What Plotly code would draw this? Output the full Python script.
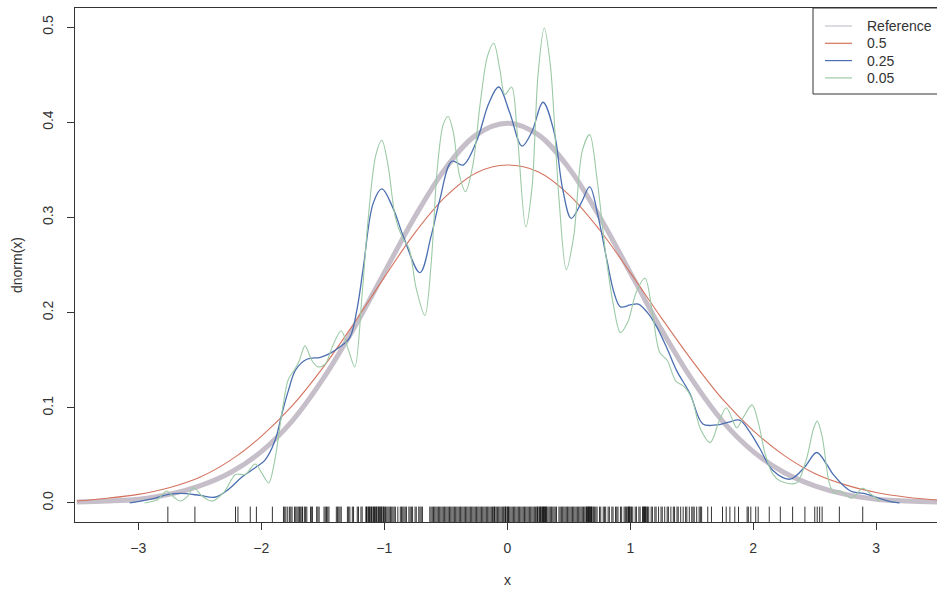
import plotly.graph_objects as go

# Standard normal reference curve dnorm(x)
ref_x = [-3.5, -3.25, -3.0, -2.75, -2.5, -2.25, -2.0, -1.75, -1.5, -1.25, -1.0, -0.75, -0.5, -0.25,
         0.0, 0.25, 0.5, 0.75, 1.0, 1.25, 1.5, 1.75, 2.0, 2.25, 2.5, 2.75, 3.0, 3.25, 3.5]
ref_y = [0.001, 0.002, 0.004, 0.009, 0.018, 0.032, 0.054, 0.086, 0.130, 0.183, 0.242, 0.301, 0.352, 0.387,
         0.399, 0.387, 0.352, 0.301, 0.242, 0.183, 0.130, 0.086, 0.054, 0.032, 0.018, 0.009, 0.004, 0.002, 0.001]

# Kernel density estimate, bandwidth 0.5
bw050_x = [-3.5, -3.25, -3.0, -2.75, -2.5, -2.25, -2.0, -1.75, -1.5, -1.25, -1.0, -0.75, -0.5, -0.25,
           0.0, 0.25, 0.5, 0.75, 1.0, 1.25, 1.5, 1.75, 2.0, 2.25, 2.5, 2.75, 3.0, 3.25, 3.5]
bw050_y = [0.002, 0.005, 0.009, 0.016, 0.027, 0.045, 0.070, 0.102, 0.142, 0.188, 0.237, 0.284, 0.322, 0.347,
           0.355, 0.348, 0.324, 0.287, 0.242, 0.195, 0.150, 0.109, 0.076, 0.050, 0.031, 0.019, 0.011, 0.006, 0.003]

# Kernel density estimate, bandwidth 0.25
bw025_x = [-3.07, -2.9, -2.75, -2.65, -2.5, -2.38, -2.27, -2.16, -2.05, -1.97, -1.89, -1.83, -1.78, -1.72,
           -1.63, -1.52, -1.43, -1.36, -1.28, -1.22, -1.17, -1.09, -1.02, -0.93, -0.845, -0.71, -0.62, -0.55,
           -0.45, -0.36, -0.25, -0.15, -0.07, 0.02, 0.12, 0.2, 0.29, 0.38, 0.45, 0.52, 0.6, 0.67, 0.74, 0.81,
           0.87, 0.92, 1.0, 1.065, 1.14, 1.215, 1.3, 1.377, 1.485, 1.59, 1.7, 1.8, 1.89, 1.97, 2.05, 2.16, 2.3,
           2.42, 2.515, 2.6, 2.65, 2.79, 2.9, 3.0, 3.1, 3.19]
bw025_y = [0.0, 0.004, 0.009, 0.010, 0.008, 0.006, 0.014, 0.027, 0.037, 0.045, 0.065, 0.095, 0.118, 0.140,
           0.151, 0.153, 0.158, 0.164, 0.174, 0.205, 0.248, 0.315, 0.330, 0.310, 0.280, 0.242, 0.280, 0.318,
           0.359, 0.355, 0.380, 0.420, 0.437, 0.410, 0.375, 0.390, 0.421, 0.390, 0.330, 0.299, 0.315, 0.332,
           0.300, 0.255, 0.220, 0.206, 0.208, 0.209, 0.200, 0.185, 0.162, 0.139, 0.115, 0.083, 0.082, 0.085,
           0.087, 0.075, 0.058, 0.034, 0.025, 0.038, 0.053, 0.040, 0.030, 0.0126, 0.010, 0.006, 0.002, 0.0]

# Kernel density estimate, bandwidth 0.05
bw005_x = [-2.95, -2.85, -2.77, -2.71, -2.66, -2.6, -2.55, -2.48, -2.4, -2.3, -2.21, -2.13, -2.05, -1.99,
           -1.94, -1.89, -1.83, -1.78, -1.73, -1.69, -1.645, -1.59, -1.54, -1.48, -1.42, -1.35, -1.29, -1.24,
           -1.18, -1.13, -1.07, -1.02, -0.97, -0.91, -0.85, -0.8, -0.74, -0.67, -0.62, -0.57, -0.52, -0.48,
           -0.44, -0.39, -0.34, -0.28, -0.22, -0.16, -0.11, -0.06, -0.02, 0.035, 0.08, 0.15, 0.2, 0.25, 0.3,
           0.35, 0.42, 0.48, 0.54, 0.61, 0.67, 0.73, 0.8, 0.86, 0.92, 0.98, 1.05, 1.12, 1.18, 1.24, 1.3, 1.37,
           1.44, 1.5, 1.57, 1.65, 1.72, 1.78, 1.83, 1.865, 1.92, 1.99, 2.04, 2.1, 2.16, 2.22, 2.35, 2.43, 2.49,
           2.52, 2.56, 2.62, 2.66, 2.7, 2.8, 2.89, 2.95, 3.03]
bw005_y = [0.0, 0.003, 0.0126, 0.006, 0.002, 0.007, 0.016, 0.007, 0.002, 0.012, 0.030, 0.030, 0.041, 0.030,
           0.021, 0.045, 0.097, 0.130, 0.140, 0.150, 0.165, 0.150, 0.143, 0.146, 0.165, 0.181, 0.160, 0.143,
           0.220, 0.300, 0.365, 0.381, 0.355, 0.300, 0.278, 0.268, 0.225, 0.197, 0.250, 0.350, 0.398, 0.406,
           0.390, 0.345, 0.327, 0.355, 0.420, 0.470, 0.483, 0.455, 0.429, 0.437, 0.390, 0.290, 0.330, 0.450,
           0.499, 0.460, 0.320, 0.245, 0.280, 0.370, 0.387, 0.340, 0.262, 0.210, 0.179, 0.190, 0.222, 0.236,
           0.200, 0.158, 0.150, 0.128, 0.122, 0.110, 0.078, 0.0635, 0.085, 0.100, 0.088, 0.079, 0.090, 0.103,
           0.085, 0.050, 0.030, 0.023, 0.021, 0.045, 0.078, 0.086, 0.070, 0.020, 0.010, 0.013, 0.005, 0.0155,
           0.010, 0.002]

# Sample observations shown as a rug along the x axis
rug_x = [-2.76, -2.54, -2.21, -2.19, -2.09, -2.04, -1.91,
         -1.82, -1.81, -1.80, -1.785, -1.77, -1.76, -1.75, -1.73, -1.72, -1.71, -1.70, -1.69, -1.68,
         -1.67, -1.665, -1.65, -1.64, -1.63, -1.60, -1.59, -1.585, -1.55, -1.54, -1.53, -1.49, -1.48,
         -1.47, -1.46, -1.45, -1.39, -1.38, -1.37, -1.36, -1.35, -1.30, -1.29, -1.28, -1.26, -1.25, -1.22,
         -1.21, -1.19, -1.18, -1.15, -1.145, -1.14, -1.13, -1.125, -1.12, -1.11, -1.105, -1.10, -1.09,
         -1.085, -1.08, -1.07, -1.065, -1.06, -1.05, -1.045, -1.04, -1.03, -1.025, -1.02, -1.01, -1.005,
         -1.00, -0.99, -0.98, -0.97, -0.96, -0.95, -0.94, -0.93, -0.92, -0.91, -0.89, -0.87, -0.86, -0.85,
         -0.84, -0.83, -0.82, -0.80, -0.79, -0.78, -0.77, -0.75, -0.74, -0.72, -0.71, -0.70, -0.69,
         -0.63, -0.62, -0.61, -0.60, -0.59, -0.58, -0.57, -0.56, -0.55, -0.54, -0.53, -0.52, -0.51, -0.50,
         -0.49, -0.48, -0.47, -0.46, -0.45, -0.44, -0.43, -0.42, -0.41, -0.40, -0.39, -0.38, -0.37, -0.36,
         -0.35, -0.34, -0.33, -0.32, -0.31, -0.30, -0.29, -0.28, -0.27, -0.26, -0.25, -0.24, -0.23, -0.22,
         -0.21, -0.20, -0.19, -0.18, -0.17, -0.16, -0.15, -0.14, -0.13, -0.12, -0.11, -0.105, -0.10, -0.09,
         -0.08, -0.07, -0.06, -0.05, -0.04, -0.03, -0.02, -0.015, -0.01, 0.00, 0.005, 0.01, 0.02, 0.03,
         0.04, 0.05, 0.06, 0.07, 0.08, 0.09, 0.10, 0.11, 0.12, 0.13, 0.14, 0.15, 0.16, 0.17, 0.18, 0.19,
         0.20, 0.21, 0.22, 0.23, 0.24, 0.245, 0.25, 0.26, 0.265, 0.27, 0.28, 0.285, 0.29, 0.295, 0.30,
         0.305, 0.31, 0.315, 0.32, 0.33, 0.34, 0.35, 0.36, 0.37, 0.38, 0.39, 0.40, 0.42, 0.43, 0.44, 0.45,
         0.46, 0.47, 0.48, 0.49, 0.50, 0.51, 0.52, 0.53, 0.54, 0.55, 0.56, 0.57, 0.58, 0.59, 0.60, 0.61,
         0.62, 0.63, 0.64, 0.645, 0.65, 0.655, 0.66, 0.665, 0.67, 0.675, 0.68, 0.685, 0.69, 0.70, 0.71,
         0.72, 0.73, 0.75, 0.76, 0.78, 0.79, 0.80, 0.82, 0.83, 0.85, 0.86, 0.88, 0.89, 0.90, 0.92, 0.93,
         0.95, 0.96, 0.97, 0.98, 0.985, 0.99, 0.995, 1.00, 1.01, 1.02, 1.04, 1.05, 1.07, 1.08, 1.10, 1.105,
         1.11, 1.115, 1.12, 1.125, 1.13, 1.14, 1.15, 1.17, 1.18, 1.20, 1.21, 1.23, 1.25, 1.26, 1.28, 1.30,
         1.31, 1.33, 1.35, 1.36, 1.38, 1.39, 1.41, 1.43, 1.45, 1.46, 1.48, 1.50, 1.51, 1.52, 1.54, 1.56,
         1.57, 1.58, 1.63, 1.66, 1.75, 1.78, 1.81, 1.85, 1.88, 1.95, 1.96, 1.98, 2.02, 2.04, 2.13, 2.22,
         2.32, 2.42, 2.50, 2.52, 2.54, 2.56, 2.70, 2.89]

x_ticks = [-3, -2, -1, 0, 1, 2, 3]
y_ticks = [0.0, 0.1, 0.2, 0.3, 0.4, 0.5]
legend_names = ["Reference", "0.5", "0.25", "0.05"]

X_RANGE = [-3.515, 3.494]
Y_RANGE = [-0.02, 0.52]
RUG_FRAC = 0.03  # rug tick length as a fraction of the plot height

W, H = 937, 589
ML, MR, MT, MB = 75, 0, 8, 67
PW, PH = W - ML - MR, H - MT - MB

FONT = "Liberation Sans, Arial, sans-serif"
TXT = "#333333"
C_REF = "#c6bfca"
C_050 = "#d4735f"
C_025 = "#4b6fb0"
C_005 = "#9ccaa6"
legend_colors = ["#c9c4cc", C_050, C_025, C_005]


def px_x(p):
    """Figure pixel column -> paper x."""
    return (p - ML) / PW


def px_y(p):
    """Figure pixel row -> paper y."""
    return 1 - (p - MT) / PH


fig = go.Figure()

fig.add_trace(go.Scatter(x=ref_x, y=ref_y, mode="lines", name=legend_names[0], showlegend=False,
                         line=dict(color=C_REF, width=5, shape="spline")))
fig.add_trace(go.Scatter(x=bw050_x, y=bw050_y, mode="lines", name=legend_names[1], showlegend=False,
                         line=dict(color=C_050, width=1.1, shape="spline")))
fig.add_trace(go.Scatter(x=bw025_x, y=bw025_y, mode="lines", name=legend_names[2], showlegend=False,
                         line=dict(color=C_025, width=1.3, shape="spline")))
fig.add_trace(go.Scatter(x=bw005_x, y=bw005_y, mode="lines", name=legend_names[3], showlegend=False,
                         line=dict(color=C_005, width=1.1, shape="spline", smoothing=0.9)))

# Rug: one short vertical segment per observation, rising from the bottom of the plot
rug_lo = Y_RANGE[0]
rug_hi = Y_RANGE[0] + RUG_FRAC * (Y_RANGE[1] - Y_RANGE[0])
rx, ry = [], []
for v in rug_x:
    rx += [v, v, None]
    ry += [rug_lo, rug_hi, None]
fig.add_trace(go.Scatter(x=rx, y=ry, mode="lines", showlegend=False, hoverinfo="skip",
                         line=dict(color="rgba(0,0,0,0.8)", width=1)))

# Legend box drawn in the top-right corner, in the style of base graphics
shapes = [dict(type="rect", xref="paper", yref="paper", x0=px_x(813), x1=px_x(945),
               y0=px_y(94), y1=px_y(8), line=dict(color=TXT, width=1), fillcolor="white", layer="above")]
annotations = []
for i, (name, col) in enumerate(zip(legend_names, legend_colors)):
    yc = 26 + i * 17.3
    shapes.append(dict(type="line", xref="paper", yref="paper", x0=px_x(825), x1=px_x(852),
                       y0=px_y(yc), y1=px_y(yc), line=dict(color=col, width=1.2), layer="above"))
    annotations.append(dict(text=name, xref="paper", yref="paper", x=px_x(865), y=px_y(yc),
                            showarrow=False, xanchor="left", yanchor="middle",
                            font=dict(family=FONT, size=14, color=TXT)))

annotations += [
    dict(text="x", xref="paper", yref="paper", x=px_x(507), y=px_y(580),
         showarrow=False, xanchor="center", yanchor="middle",
         font=dict(family=FONT, size=14, color=TXT)),
    dict(text="dnorm(x)", xref="paper", yref="paper", x=px_x(17), y=px_y(265),
         showarrow=False, xanchor="center", yanchor="middle", textangle=-90,
         font=dict(family=FONT, size=14, color=TXT)),
]

axis_common = dict(
    showgrid=False, zeroline=False, showline=True, linecolor=TXT, linewidth=1,
    ticks="outside", ticklen=7, tickcolor=TXT, tickwidth=1,
    tickfont=dict(family=FONT, size=14, color=TXT),
)

fig.update_layout(
    width=W, height=H,
    margin=dict(l=ML, r=MR, t=MT, b=MB),
    paper_bgcolor="white", plot_bgcolor="white",
    showlegend=False,
    xaxis=dict(range=X_RANGE, tickvals=x_ticks, ticktext=[f"{t:g}".replace("-", "\u2212") for t in x_ticks],
               mirror=True, ticklabelstandoff=6, **axis_common),
    yaxis=dict(range=Y_RANGE, tickvals=y_ticks, ticktext=[f"{t:.1f}" for t in y_ticks],
               tickangle=-90, ticklabelstandoff=8, **axis_common),
    shapes=shapes,
    annotations=annotations,
)

fig.write_html("out.html")
